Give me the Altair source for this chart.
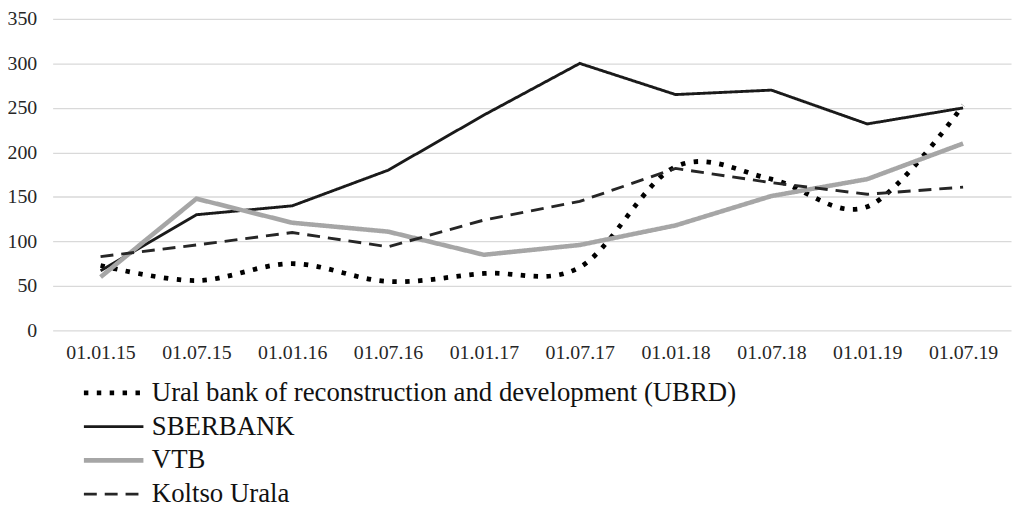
import altair as alt
import pandas as pd

dates = ["01.01.15", "01.07.15", "01.01.16", "01.07.16", "01.01.17",
         "01.07.17", "01.01.18", "01.07.18", "01.01.19", "01.07.19"]
series_names = ["Ural bank of reconstruction and development (UBRD)",
                "SBERBANK", "VTB", "Koltso Urala"]
ubrd = [73, 56, 75, 55, 64, 71, 184, 170, 139, 253]
sber = [67, 130, 140, 180, 242, 300, 265, 270, 232, 250]
vtb = [60, 148, 121, 111, 85, 96, 118, 151, 170, 210]
koltso = [83, 96, 110, 94, 124, 145, 182, 166, 153, 161]

rows = []
for name, vals in zip(series_names, [ubrd, sber, vtb, koltso]):
    for d, v in zip(dates, vals):
        rows.append({"date": d, "series": name, "value": v})
df = pd.DataFrame(rows)

colors = ["#000000", "#1a1a1a", "#a6a6a6", "#262626"]
dashes = [[4.5, 8.5], [1, 0], [1, 0], [13, 8]]
widths = [4.8, 2.9, 4.6, 2.9]

FONT = "'Liberation Serif', 'Times New Roman', Times, serif"

def legend():
    return alt.Legend(
        title=None, orient="none", legendX=29, legendY=360,
        direction="vertical", symbolType="stroke", symbolSize=3600,
        clipHeight=34, rowPadding=0, padding=0,
        labelFont=FONT, labelFontSize=27, labelColor="#111111",
        labelOffset=6, labelLimit=900,
    )

base = alt.Chart(df).encode(
    x=alt.X("date:O", sort=dates, scale=alt.Scale(domain=dates),
            axis=alt.Axis(title=None, labelAngle=0, domain=False, ticks=False,
                          labelFont=FONT, labelFontSize=20, labelColor="#262626",
                          labelPadding=12)),
    y=alt.Y("value:Q", scale=alt.Scale(domain=[0, 350]),
            axis=alt.Axis(title=None, values=list(range(0, 351, 50)), domain=False,
                          ticks=False, gridColor="#d9d9d9", gridWidth=1.3,
                          labelFont=FONT, labelFontSize=20, labelColor="#262626",
                          labelPadding=16)),
    color=alt.Color("series:N", scale=alt.Scale(domain=series_names, range=colors),
                    legend=legend()),
    strokeDash=alt.StrokeDash("series:N", scale=alt.Scale(domain=series_names, range=dashes),
                              legend=legend()),
    strokeWidth=alt.StrokeWidth("series:N",
                                scale=alt.Scale(type="ordinal", domain=series_names, range=widths),
                                legend=legend()),
)

l1 = base.transform_filter(alt.datum.series == series_names[0]).mark_line(
    interpolate="cardinal", tension=0)
l2 = base.transform_filter(alt.datum.series != series_names[0]).mark_line()

chart = alt.layer(l1, l2).properties(
    width=966, height=314,
    padding={"left": 45, "top": 9, "right": 2, "bottom": 180},
    autosize=alt.AutoSizeParams(type="none"),
).configure_view(stroke=None)

chart.save("out.html", embed_options={"renderer": "svg", "actions": False})
